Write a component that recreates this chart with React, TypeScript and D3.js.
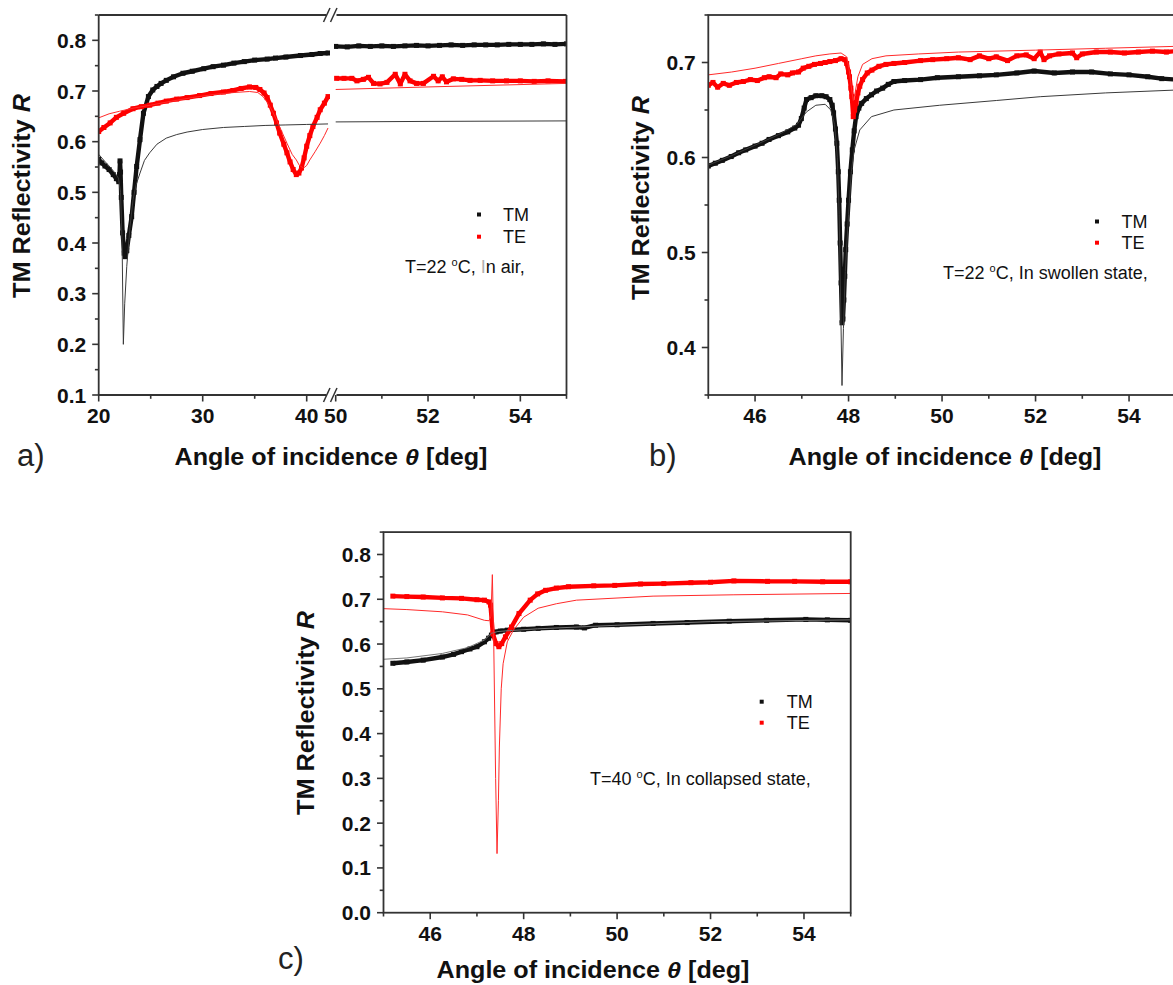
import React from 'react';
import * as d3 from 'd3';

type P = [number, number];

// ---------- Panel a (broken x axis) ----------
const aTMData1: P[] = [[20.0,0.565],[20.3,0.558],[20.6,0.552],[21.0,0.545],[21.4,0.535],[21.7,0.527],[21.93,0.521],[22.0,0.535],[22.05,0.562],[22.1,0.54],[22.17,0.49],[22.3,0.42],[22.45,0.38],[22.55,0.373],[22.7,0.385],[22.9,0.415],[23.17,0.452],[23.4,0.5],[23.65,0.551],[23.97,0.604],[24.3,0.656],[24.78,0.689],[25.2,0.702],[25.6,0.709],[26.0,0.715],[26.5,0.721],[27.2,0.728],[28.1,0.735],[29.0,0.739],[30.1,0.744],[31.0,0.748],[32.0,0.751],[33.0,0.755],[34.0,0.758],[35.0,0.761],[36.2,0.763],[37.0,0.765],[38.0,0.767],[39.4,0.770],[40.5,0.772],[41.3,0.774],[42.05,0.775]];
const aTMFit1: P[] = [[20,0.575],[20.5,0.563],[21,0.552],[21.5,0.54],[21.9,0.528],[22.1,0.5],[22.25,0.4],[22.37,0.2],[22.5,0.28],[22.7,0.354],[23,0.43],[23.3,0.485],[23.6,0.515],[23.97,0.538],[24.4,0.563],[24.9,0.578],[25.6,0.595],[26.5,0.607],[27.5,0.614],[28.5,0.619],[30,0.624],[32,0.628],[34,0.63],[36,0.632],[38,0.633],[40,0.634],[42.05,0.635]];
const aTEData1: P[] = [[20,0.62],[20.5,0.628],[21.1,0.637],[21.7,0.648],[22.4,0.656],[23.3,0.665],[24.1,0.669],[24.9,0.672],[25.7,0.676],[26.5,0.68],[27.5,0.684],[28.5,0.687],[29.7,0.691],[30.8,0.695],[32,0.698],[32.9,0.701],[33.7,0.705],[34.5,0.708],[35.1,0.707],[35.5,0.703],[35.9,0.696],[36.2,0.687],[36.5,0.672],[36.8,0.656],[37.1,0.637],[37.4,0.617],[37.8,0.595],[38.1,0.578],[38.4,0.56],[38.7,0.545],[39.0,0.535],[39.25,0.538],[39.5,0.548],[39.75,0.568],[40.0,0.591],[40.3,0.612],[40.6,0.63],[41.0,0.648],[41.3,0.663],[41.7,0.676],[42.05,0.689]];
const aTEFit1: P[] = [[20,0.647],[21,0.655],[22,0.66],[23.3,0.666],[25,0.672],[27,0.68],[29,0.687],[31,0.693],[33,0.697],[34.5,0.699],[35.3,0.697],[35.8,0.689],[36.3,0.675],[36.7,0.66],[37.1,0.643],[37.6,0.62],[38.1,0.597],[38.6,0.575],[39.0,0.564],[39.3,0.553],[39.7,0.548],[40.0,0.553],[40.3,0.564],[40.8,0.58],[41.3,0.597],[41.7,0.612],[42.05,0.627]];
const aTMData2: P[] = [[50,0.788],[50.25,0.787],[50.5,0.789],[50.75,0.788],[51,0.789],[51.25,0.788],[51.5,0.789],[51.75,0.79],[52,0.789],[52.25,0.79],[52.5,0.791],[52.75,0.79],[53,0.791],[53.25,0.791],[53.5,0.791],[53.75,0.792],[54,0.792],[54.25,0.792],[54.5,0.793],[54.75,0.792],[55,0.793]];
const aTMFit2: P[] = [[50,0.639],[52,0.64],[55,0.641]];
const aTEData2: P[] = [[50.02,0.725],[50.18,0.725],[50.35,0.725],[50.46,0.72],[50.6,0.723],[50.71,0.727],[50.82,0.715],[50.96,0.714],[51.11,0.717],[51.29,0.733],[51.4,0.714],[51.5,0.733],[51.61,0.72],[51.75,0.715],[51.9,0.715],[52.12,0.729],[52.22,0.72],[52.31,0.728],[52.4,0.718],[52.55,0.724],[52.73,0.723],[52.91,0.721],[53.13,0.721],[53.4,0.72],[53.7,0.72],[54.0,0.72],[54.3,0.719],[54.6,0.72],[54.98,0.719]];
const aTEFit2: P[] = [[50,0.703],[52,0.708],[55,0.715]];

// ---------- Panel b ----------
const bTMData: P[] = [[45,0.591],[45.15,0.594],[45.3,0.597],[45.49,0.601],[45.65,0.605],[45.8,0.608],[46,0.612],[46.15,0.615],[46.3,0.619],[46.5,0.623],[46.7,0.627],[46.85,0.631],[46.93,0.634],[46.99,0.641],[47.05,0.652],[47.1,0.661],[47.2,0.663],[47.3,0.665],[47.43,0.665],[47.52,0.664],[47.6,0.661],[47.65,0.655],[47.68,0.647],[47.72,0.63],[47.75,0.615],[47.78,0.585],[47.8,0.555],[47.82,0.51],[47.84,0.468],[47.86,0.426],[47.88,0.43],[47.9,0.45],[47.92,0.475],[47.94,0.503],[47.97,0.53],[48.0,0.555],[48.04,0.585],[48.08,0.608],[48.12,0.628],[48.16,0.643],[48.22,0.652],[48.28,0.657],[48.38,0.662],[48.49,0.666],[48.6,0.67],[48.73,0.673],[48.85,0.677],[48.97,0.68],[49.2,0.681],[49.54,0.682],[49.9,0.684],[50.35,0.685],[50.8,0.686],[51.16,0.687],[51.6,0.689],[51.97,0.691],[52.4,0.689],[52.79,0.69],[53.2,0.69],[53.6,0.688],[54.0,0.687],[54.4,0.685],[54.7,0.683],[55,0.682]];
const bTMFit: P[] = [[45,0.592],[45.5,0.602],[46,0.613],[46.5,0.624],[46.9,0.635],[47.1,0.648],[47.3,0.655],[47.5,0.656],[47.62,0.65],[47.7,0.635],[47.76,0.6],[47.8,0.54],[47.83,0.45],[47.86,0.36],[47.89,0.42],[47.93,0.48],[48.0,0.54],[48.06,0.585],[48.12,0.608],[48.24,0.629],[48.49,0.643],[48.97,0.65],[49.95,0.655],[51.16,0.66],[52.1,0.664],[53.5,0.668],[55,0.671]];
const bTEData: P[] = [[45,0.676],[45.1,0.679],[45.2,0.674],[45.32,0.678],[45.45,0.676],[45.6,0.679],[45.75,0.68],[45.9,0.682],[46.05,0.681],[46.2,0.684],[46.3,0.685],[46.45,0.684],[46.55,0.688],[46.7,0.687],[46.8,0.689],[46.93,0.69],[47.03,0.694],[47.15,0.696],[47.27,0.698],[47.4,0.699],[47.5,0.7],[47.6,0.701],[47.72,0.702],[47.84,0.704],[47.92,0.703],[47.96,0.699],[48.0,0.69],[48.02,0.685],[48.05,0.673],[48.07,0.664],[48.1,0.643],[48.13,0.65],[48.16,0.657],[48.2,0.668],[48.24,0.675],[48.3,0.682],[48.4,0.689],[48.5,0.692],[48.65,0.696],[48.8,0.698],[48.97,0.699],[49.2,0.7],[49.54,0.702],[49.8,0.703],[50.1,0.704],[50.35,0.705],[50.6,0.703],[50.8,0.707],[51.0,0.704],[51.16,0.706],[51.4,0.702],[51.6,0.707],[51.8,0.708],[51.97,0.704],[52.1,0.711],[52.18,0.703],[52.3,0.707],[52.5,0.709],[52.79,0.71],[52.88,0.705],[53.0,0.709],[53.3,0.711],[53.6,0.711],[53.9,0.71],[54.2,0.711],[54.5,0.712],[54.8,0.711],[55,0.712]];
const bTEFit: P[] = [[45,0.687],[45.5,0.69],[46,0.694],[46.5,0.699],[47,0.704],[47.3,0.707],[47.6,0.709],[47.84,0.71],[47.96,0.706],[48.02,0.69],[48.07,0.67],[48.1,0.66],[48.14,0.668],[48.2,0.685],[48.3,0.698],[48.5,0.704],[48.8,0.707],[49.5,0.709],[50.35,0.711],[52,0.713],[53.5,0.715],[55,0.717]];

// ---------- Panel c ----------
const cTMData: P[] = [[45.2,0.557],[45.5,0.56],[45.85,0.564],[46.26,0.571],[46.5,0.577],[46.67,0.583],[46.85,0.589],[47.0,0.594],[47.16,0.605],[47.25,0.613],[47.31,0.62],[47.41,0.627],[47.5,0.629],[47.65,0.631],[48.0,0.633],[48.31,0.635],[48.7,0.637],[49.13,0.638],[49.3,0.636],[49.54,0.642],[50.0,0.643],[50.77,0.646],[51.5,0.648],[52.4,0.651],[53.2,0.653],[54.04,0.655],[54.5,0.654],[55,0.653]];
const cTMFit: P[] = [[45,0.566],[45.5,0.569],[46.26,0.579],[46.8,0.592],[47.16,0.609],[47.31,0.624],[47.45,0.628],[47.7,0.63],[48.3,0.634],[50,0.642],[52,0.65],[55,0.654]];
const cTEData: P[] = [[45.2,0.707],[45.5,0.706],[45.85,0.705],[46.26,0.703],[46.67,0.702],[47.0,0.699],[47.16,0.698],[47.26,0.694],[47.29,0.687],[47.34,0.623],[47.41,0.601],[47.47,0.594],[47.53,0.601],[47.61,0.616],[47.74,0.638],[47.9,0.668],[48.14,0.698],[48.3,0.712],[48.47,0.72],[48.7,0.725],[48.96,0.728],[49.5,0.73],[49.95,0.731],[50.5,0.734],[51.0,0.735],[51.58,0.737],[52.0,0.738],[52.5,0.741],[53.22,0.74],[53.8,0.74],[54.4,0.739],[55,0.739]];
const cTEFit: P[] = [[45,0.679],[45.5,0.677],[46.26,0.672],[46.8,0.665],[47.16,0.653],[47.26,0.652],[47.3,0.662],[47.33,0.755],[47.36,0.6],[47.4,0.3],[47.43,0.132],[47.46,0.25],[47.48,0.37],[47.52,0.5],[47.56,0.556],[47.65,0.605],[47.78,0.631],[48.0,0.66],[48.31,0.68],[48.7,0.69],[49.13,0.698],[50.77,0.707],[52.5,0.71],[55,0.713]];

// ---------- Tick values ----------
const aYMajor = [0.1, 0.2, 0.3, 0.4, 0.5, 0.6, 0.7, 0.8];
const aYMinor = [0.15, 0.25, 0.35, 0.45, 0.55, 0.65, 0.75, 0.85];
const aX1Major = [20, 30, 40];
const aX1Minor = [25, 35];
const aX2Major = [50, 52, 54];
const aX2Minor = [51, 53, 55];
const bYMajor = [0.4, 0.5, 0.6, 0.7];
const bYMinor = [0.35, 0.45, 0.55, 0.65, 0.75];
const cYMajor = [0.0, 0.1, 0.2, 0.3, 0.4, 0.5, 0.6, 0.7, 0.8];
const cYMinor = [0.05, 0.15, 0.25, 0.35, 0.45, 0.55, 0.65, 0.75, 0.85];
const bcXMajor = [46, 48, 50, 52, 54];
const bcXMinor = [45, 47, 49, 51, 53, 55];

const FONT = "'Liberation Sans', Arial, Helvetica, sans-serif";
const BLACK = '#111';
const RED = '#ff0000';
const FITBLACK = '#3a3a3a';
const FITRED = '#ff2a2a';
const AXIS = '#333';

type Scale = d3.ScaleLinear<number, number>;

function Series({ pts, x, y, color, fit }: { pts: P[]; x: Scale; y: Scale; color: string; fit?: boolean }) {
  const d = d3.line<P>().x(p => x(p[0])).y(p => y(p[1]))(pts) || '';
  if (fit) return <path d={d} fill="none" stroke={color} strokeWidth={1} />;
  return (
    <g>
      <path d={d} fill="none" stroke={color} strokeWidth={4.4} strokeLinejoin="round" />
      {pts.map((p, i) => (
        <rect key={i} x={x(p[0]) - 2.5} y={y(p[1]) - 2.5} width={5} height={5} fill={color} />
      ))}
    </g>
  );
}

const fmtY = d3.format('.1f');
const fmtX = d3.format('d');

function YAxis({ x0, y, major, minor }: { x0: number; y: Scale; major: number[]; minor: number[] }) {
  return (
    <g>
      {major.map(v => (
        <g key={'M' + v}>
          <line x1={x0 - 6.5} x2={x0} y1={y(v)} y2={y(v)} stroke={AXIS} strokeWidth={1.6} />
          <text x={x0 - 12.5} y={y(v)} dy="0.36em" textAnchor="end" fontFamily={FONT} fontWeight="bold" fontSize={21} fill="#111">{fmtY(v)}</text>
        </g>
      ))}
      {minor.map(v => (
        <line key={'m' + v} x1={x0 - 3.8} x2={x0} y1={y(v)} y2={y(v)} stroke={AXIS} strokeWidth={1.6} />
      ))}
    </g>
  );
}

function XAxis({ y0, x, major, minor }: { y0: number; x: Scale; major: number[]; minor: number[] }) {
  return (
    <g>
      {major.map(v => (
        <g key={'M' + v}>
          <line x1={x(v)} x2={x(v)} y1={y0} y2={y0 + 6.5} stroke={AXIS} strokeWidth={1.6} />
          <text x={x(v)} y={y0 + 28} textAnchor="middle" fontFamily={FONT} fontWeight="bold" fontSize={21} fill="#111">{fmtX(v)}</text>
        </g>
      ))}
      {minor.map(v => (
        <line key={'m' + v} x1={x(v)} x2={x(v)} y1={y0} y2={y0 + 3.8} stroke={AXIS} strokeWidth={1.6} />
      ))}
    </g>
  );
}

function YLabel({ x, y }: { x: number; y: number }) {
  return (
    <text transform={`translate(${x},${y}) rotate(-90)`} textAnchor="middle" fontFamily={FONT} fontWeight="bold" fontSize={23} fill="#111" textLength={204} lengthAdjust="spacingAndGlyphs">
      TM Reflectivity <tspan fontStyle="italic">R</tspan>
    </text>
  );
}

function XLabel({ x, y }: { x: number; y: number }) {
  return (
    <text x={x} y={y} textAnchor="middle" fontFamily={FONT} fontWeight="bold" fontSize={23} fill="#111" textLength={313} lengthAdjust="spacingAndGlyphs">
      Angle of incidence <tspan fontStyle="italic">θ</tspan> [deg]
    </text>
  );
}

function Legend({ mx, tx, y1, y2 }: { mx: number; tx: number; y1: number; y2: number }) {
  return (
    <g fontFamily={FONT} fontSize={18} fill="#111">
      <rect x={mx - 2} y={y1 - 2} width={4} height={4} fill={BLACK} />
      <rect x={mx - 2} y={y2 - 2} width={4} height={4} fill={RED} />
      <text x={tx} y={y1 + 6.5}>TM</text>
      <text x={tx} y={y2 + 6.5}>TE</text>
    </g>
  );
}

function Note({ x, y, temp, rest, grayI }: { x: number; y: number; temp: string; rest: string; grayI?: boolean }) {
  return (
    <text x={x} y={y} fontFamily={FONT} fontSize={18} fill="#111">
      {`T=${temp} `}
      <tspan fontSize={11} dy={-7}>o</tspan>
      <tspan dy={7}>{'C, '}</tspan>
      <tspan fill={grayI ? '#b0b0b0' : '#111'}>I</tspan>
      <tspan>{rest}</tspan>
    </text>
  );
}

export default function App() {
  // Panel a scales
  const yA = d3.scaleLinear().domain([0.1, 0.85]).range([395, 15]);
  const xA1 = d3.scaleLinear().domain([20, 42]).range([98.7, 327.5]);
  const xA2 = d3.scaleLinear().domain([50, 55]).range([335.7, 566.5]);
  // Panel b
  const yB = d3.scaleLinear().domain([0.35, 0.75]).range([395, 15]);
  const xB = d3.scaleLinear().domain([45, 55]).range([708.3, 1175.8]);
  // Panel c
  const yC = d3.scaleLinear().domain([0, 0.85]).range([912.7, 532.1]);
  const xC = d3.scaleLinear().domain([45, 55]).range([383.5, 850.7]);

  const aTop = yA.range()[1], aBot = yA.range()[0];
  const aL = xA1.range()[0], aR = xA2.range()[1];
  const bTop = yB.range()[1], bBot = yB.range()[0];
  const bL = xB.range()[0], bR = xB.range()[1];
  const cTop = yC.range()[1], cBot = yC.range()[0];
  const cL = xC.range()[0], cR = xC.range()[1];

  const brk = (y: number) => (
    <g stroke={AXIS} strokeWidth={1.5}>
      <line x1={323.5} y1={y + 7} x2={330} y2={y - 7} />
      <line x1={330.5} y1={y + 7} x2={337} y2={y - 7} />
    </g>
  );

  return (
    <svg width={1173} height={985} style={{ position: 'absolute', left: 0, top: 0, background: '#fff' }}>
      <defs>
        <clipPath id="ca1"><rect x={aL} y={aTop} width={330 - aL} height={aBot - aTop} /></clipPath>
        <clipPath id="ca2"><rect x={334} y={aTop} width={aR - 334} height={aBot - aTop} /></clipPath>
        <clipPath id="cb"><rect x={bL} y={bTop} width={bR - bL} height={bBot - bTop} /></clipPath>
        <clipPath id="cc"><rect x={cL} y={cTop} width={cR - cL} height={cBot - cTop} /></clipPath>
      </defs>
      <rect x={0} y={0} width={1173} height={985} fill="#fff" />

      {/* ---------- Panel a ---------- */}
      <g clipPath="url(#ca1)">
        <Series pts={aTMData1} x={xA1} y={yA} color={BLACK} />
        <Series pts={aTEData1} x={xA1} y={yA} color={RED} />
        <Series pts={aTMFit1} x={xA1} y={yA} color={FITBLACK} fit />
        <Series pts={aTEFit1} x={xA1} y={yA} color={FITRED} fit />
      </g>
      <g clipPath="url(#ca2)">
        <Series pts={aTMData2} x={xA2} y={yA} color={BLACK} />
        <Series pts={aTEData2} x={xA2} y={yA} color={RED} />
        <Series pts={aTMFit2} x={xA2} y={yA} color={FITBLACK} fit />
        <Series pts={aTEFit2} x={xA2} y={yA} color={FITRED} fit />
      </g>
      <g stroke={AXIS} strokeWidth={1.8} fill="none">
        <line x1={aL} x2={326.5} y1={aTop} y2={aTop} />
        <line x1={336.5} x2={aR} y1={aTop} y2={aTop} />
        <line x1={aL} x2={326.5} y1={aBot} y2={aBot} />
        <line x1={336.5} x2={aR} y1={aBot} y2={aBot} />
        <line x1={aL} x2={aL} y1={aTop} y2={aBot} />
        <line x1={aR} x2={aR} y1={aTop} y2={aBot} />
      </g>
      {brk(aTop)}
      {brk(aBot)}
      <YAxis x0={aL} y={yA} major={aYMajor} minor={aYMinor} />
      <XAxis y0={aBot} x={xA1} major={aX1Major} minor={aX1Minor} />
      <XAxis y0={aBot} x={xA2} major={aX2Major} minor={aX2Minor} />
      <YLabel x={30} y={196} />
      <XLabel x={331} y={465} />
      <Legend mx={479} tx={503} y1={214.5} y2={236.7} />
      <Note x={405} y={273} temp="22" rest="n air," grayI />
      <text x={17} y={466} fontFamily={FONT} fontSize={31} fill="#222">a)</text>

      {/* ---------- Panel b ---------- */}
      <g clipPath="url(#cb)">
        <Series pts={bTMData} x={xB} y={yB} color={BLACK} />
        <Series pts={bTEData} x={xB} y={yB} color={RED} />
        <Series pts={bTMFit} x={xB} y={yB} color={FITBLACK} fit />
        <Series pts={bTEFit} x={xB} y={yB} color={FITRED} fit />
      </g>
      <rect x={bL} y={bTop} width={bR - bL} height={bBot - bTop} fill="none" stroke={AXIS} strokeWidth={1.8} />
      <YAxis x0={bL} y={yB} major={bYMajor} minor={bYMinor} />
      <XAxis y0={bBot} x={xB} major={bcXMajor} minor={bcXMinor} />
      <YLabel x={649} y={198} />
      <XLabel x={945} y={465} />
      <Legend mx={1097} tx={1121.5} y1={221.5} y2={242.7} />
      <Note x={943} y={279} temp="22" rest="n swollen state," />
      <text x={649} y={466} fontFamily={FONT} fontSize={31} fill="#222">b)</text>

      {/* ---------- Panel c ---------- */}
      <g clipPath="url(#cc)">
        <Series pts={cTMData} x={xC} y={yC} color={BLACK} />
        <Series pts={cTEData} x={xC} y={yC} color={RED} />
        <Series pts={cTMFit} x={xC} y={yC} color="#777" fit />
        <Series pts={cTEFit} x={xC} y={yC} color={FITRED} fit />
      </g>
      <rect x={cL} y={cTop} width={cR - cL} height={cBot - cTop} fill="none" stroke={AXIS} strokeWidth={1.8} />
      <YAxis x0={cL} y={yC} major={cYMajor} minor={cYMinor} />
      <XAxis y0={cBot} x={xC} major={bcXMajor} minor={bcXMinor} />
      <YLabel x={314} y={713} />
      <XLabel x={593} y={978} />
      <Legend mx={761.7} tx={786.7} y1={701.7} y2={722.7} />
      <Note x={590} y={785} temp="40" rest="n collapsed state," />
      <text x={278} y={969} fontFamily={FONT} fontSize={31} fill="#222">c)</text>
    </svg>
  );
}
